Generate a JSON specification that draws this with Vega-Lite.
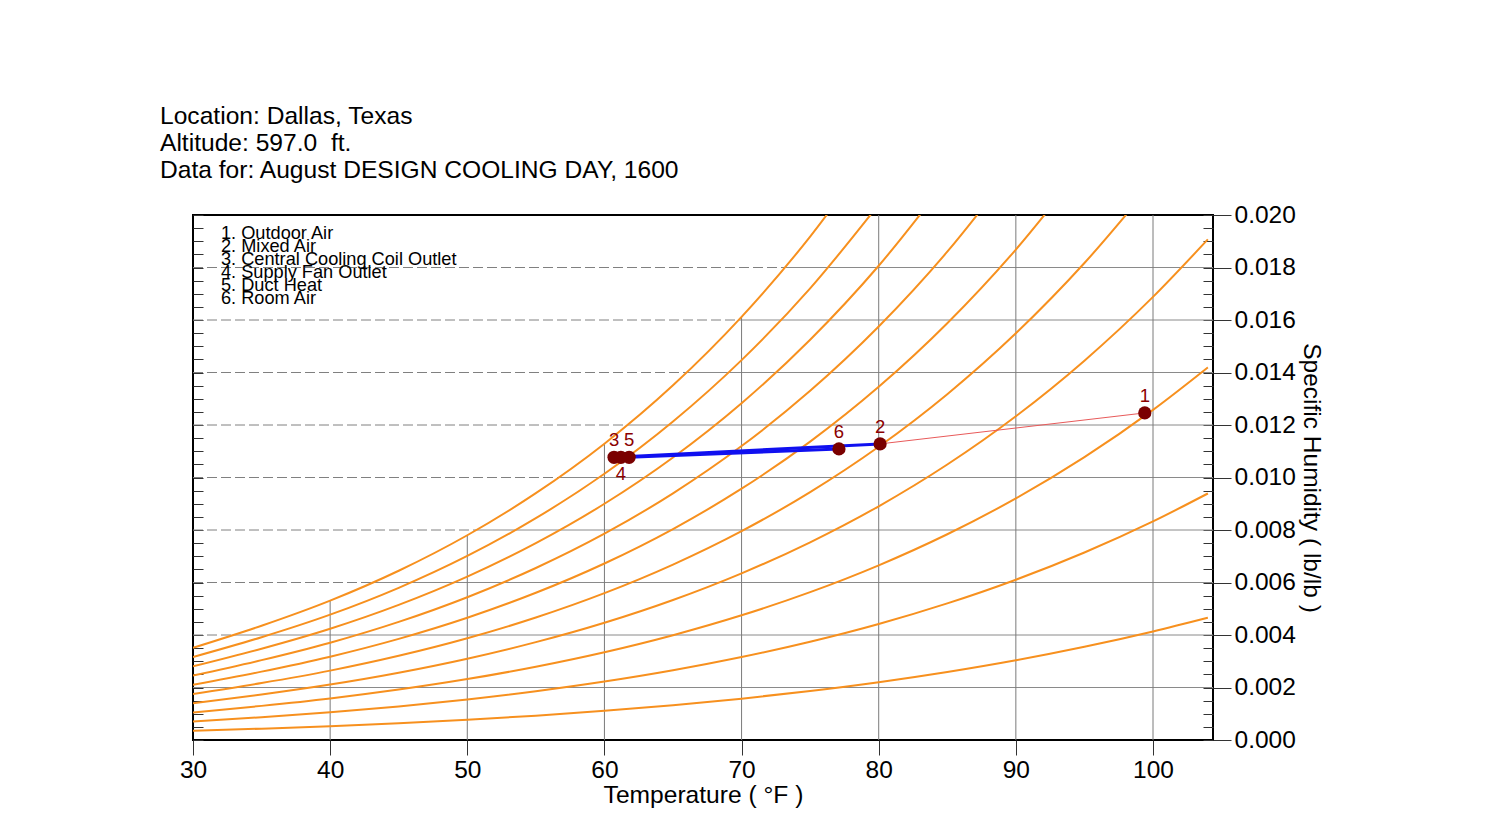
{
  "$schema": "https://vega.github.io/schema/vega-lite/v6.json",
  "autosize": {"type": "none"},
  "padding": {"left": 193, "top": 215, "right": 296, "bottom": 75},
  "width": 1020,
  "height": 525,
  "background": "white",
  "title": {
    "text": ["Location: Dallas, Texas", "Altitude: 597.0 \u00a0ft.", "Data for: August DESIGN COOLING DAY, 1600"],
    "anchor": "start",
    "frame": "group",
    "dx": -33,
    "offset": 18,
    "font": "Liberation Sans",
    "fontSize": 24.6,
    "fontWeight": "normal",
    "lineHeight": 27,
    "color": "black"
  },
  "config": {
    "view": {"stroke": "black", "strokeWidth": 2},
    "font": "Liberation Sans"
  },
  "resolve": {"axis": {"x": "independent", "y": "independent"}},
  "datasets": {
    "rh": [
      {"rh": 100, "T": 30, "W": 0.003513}, {"rh": 100, "T": 35, "W": 0.004354}, {"rh": 100, "T": 40, "W": 0.005310}, {"rh": 100, "T": 45, "W": 0.006448}, {"rh": 100, "T": 50, "W": 0.007800}, {"rh": 100, "T": 55, "W": 0.009403}, {"rh": 100, "T": 60, "W": 0.011289}, {"rh": 100, "T": 65, "W": 0.013512}, {"rh": 100, "T": 70, "W": 0.016121}, {"rh": 100, "T": 75, "W": 0.019178}, {"rh": 100, "T": 80, "W": 0.022749},
      {"rh": 90, "T": 30, "W": 0.003160}, {"rh": 90, "T": 35, "W": 0.003916}, {"rh": 90, "T": 40, "W": 0.004775}, {"rh": 90, "T": 45, "W": 0.005798}, {"rh": 90, "T": 50, "W": 0.007012}, {"rh": 90, "T": 55, "W": 0.008450}, {"rh": 90, "T": 60, "W": 0.010142}, {"rh": 90, "T": 65, "W": 0.012134}, {"rh": 90, "T": 70, "W": 0.014472}, {"rh": 90, "T": 75, "W": 0.017206}, {"rh": 90, "T": 80, "W": 0.020400},
      {"rh": 80, "T": 30, "W": 0.002808}, {"rh": 80, "T": 35, "W": 0.003479}, {"rh": 80, "T": 40, "W": 0.004240}, {"rh": 80, "T": 45, "W": 0.005148}, {"rh": 80, "T": 50, "W": 0.006225}, {"rh": 80, "T": 55, "W": 0.007500}, {"rh": 80, "T": 60, "W": 0.008999}, {"rh": 80, "T": 65, "W": 0.010763}, {"rh": 80, "T": 70, "W": 0.012830}, {"rh": 80, "T": 75, "W": 0.015248}, {"rh": 80, "T": 80, "W": 0.018067}, {"rh": 80, "T": 85, "W": 0.021350},
      {"rh": 70, "T": 30, "W": 0.002455}, {"rh": 70, "T": 35, "W": 0.003042}, {"rh": 70, "T": 40, "W": 0.003707}, {"rh": 70, "T": 45, "W": 0.004500}, {"rh": 70, "T": 50, "W": 0.005440}, {"rh": 70, "T": 55, "W": 0.006553}, {"rh": 70, "T": 60, "W": 0.007860}, {"rh": 70, "T": 65, "W": 0.009397}, {"rh": 70, "T": 70, "W": 0.011198}, {"rh": 70, "T": 75, "W": 0.013301}, {"rh": 70, "T": 80, "W": 0.015751}, {"rh": 70, "T": 85, "W": 0.018601}, {"rh": 70, "T": 90, "W": 0.021908},
      {"rh": 60, "T": 30, "W": 0.002103}, {"rh": 60, "T": 35, "W": 0.002605}, {"rh": 60, "T": 40, "W": 0.003175}, {"rh": 60, "T": 45, "W": 0.003853}, {"rh": 60, "T": 50, "W": 0.004657}, {"rh": 60, "T": 55, "W": 0.005608}, {"rh": 60, "T": 60, "W": 0.006725}, {"rh": 60, "T": 65, "W": 0.008037}, {"rh": 60, "T": 70, "W": 0.009573}, {"rh": 60, "T": 75, "W": 0.011366}, {"rh": 60, "T": 80, "W": 0.013453}, {"rh": 60, "T": 85, "W": 0.015876}, {"rh": 60, "T": 90, "W": 0.018684}, {"rh": 60, "T": 95, "W": 0.021932},
      {"rh": 50, "T": 30, "W": 0.001752}, {"rh": 50, "T": 35, "W": 0.002170}, {"rh": 50, "T": 40, "W": 0.002643}, {"rh": 50, "T": 45, "W": 0.003208}, {"rh": 50, "T": 50, "W": 0.003876}, {"rh": 50, "T": 55, "W": 0.004666}, {"rh": 50, "T": 60, "W": 0.005594}, {"rh": 50, "T": 65, "W": 0.006683}, {"rh": 50, "T": 70, "W": 0.007957}, {"rh": 50, "T": 75, "W": 0.009443}, {"rh": 50, "T": 80, "W": 0.011170}, {"rh": 50, "T": 85, "W": 0.013174}, {"rh": 50, "T": 90, "W": 0.015493}, {"rh": 50, "T": 95, "W": 0.018170}, {"rh": 50, "T": 100, "W": 0.021245},
      {"rh": 40, "T": 30, "W": 0.001401}, {"rh": 40, "T": 35, "W": 0.001734}, {"rh": 40, "T": 40, "W": 0.002113}, {"rh": 40, "T": 45, "W": 0.002563}, {"rh": 40, "T": 50, "W": 0.003097}, {"rh": 40, "T": 55, "W": 0.003728}, {"rh": 40, "T": 60, "W": 0.004467}, {"rh": 40, "T": 65, "W": 0.005335}, {"rh": 40, "T": 70, "W": 0.006350}, {"rh": 40, "T": 75, "W": 0.007532}, {"rh": 40, "T": 80, "W": 0.008904}, {"rh": 40, "T": 85, "W": 0.010495}, {"rh": 40, "T": 90, "W": 0.012333}, {"rh": 40, "T": 95, "W": 0.014451}, {"rh": 40, "T": 100, "W": 0.016880}, {"rh": 40, "T": 104, "W": 0.019071},
      {"rh": 30, "T": 30, "W": 0.001050}, {"rh": 30, "T": 35, "W": 0.001300}, {"rh": 30, "T": 40, "W": 0.001583}, {"rh": 30, "T": 45, "W": 0.001921}, {"rh": 30, "T": 50, "W": 0.002320}, {"rh": 30, "T": 55, "W": 0.002792}, {"rh": 30, "T": 60, "W": 0.003344}, {"rh": 30, "T": 65, "W": 0.003993}, {"rh": 30, "T": 70, "W": 0.004750}, {"rh": 30, "T": 75, "W": 0.005632}, {"rh": 30, "T": 80, "W": 0.006654}, {"rh": 30, "T": 85, "W": 0.007838}, {"rh": 30, "T": 90, "W": 0.009204}, {"rh": 30, "T": 95, "W": 0.010776}, {"rh": 30, "T": 100, "W": 0.012575}, {"rh": 30, "T": 104, "W": 0.014194},
      {"rh": 20, "T": 30, "W": 0.000700}, {"rh": 20, "T": 35, "W": 0.000866}, {"rh": 20, "T": 40, "W": 0.001055}, {"rh": 20, "T": 45, "W": 0.001279}, {"rh": 20, "T": 50, "W": 0.001545}, {"rh": 20, "T": 55, "W": 0.001858}, {"rh": 20, "T": 60, "W": 0.002226}, {"rh": 20, "T": 65, "W": 0.002656}, {"rh": 20, "T": 70, "W": 0.003159}, {"rh": 20, "T": 75, "W": 0.003743}, {"rh": 20, "T": 80, "W": 0.004420}, {"rh": 20, "T": 85, "W": 0.005204}, {"rh": 20, "T": 90, "W": 0.006106}, {"rh": 20, "T": 95, "W": 0.007143}, {"rh": 20, "T": 100, "W": 0.008327}, {"rh": 20, "T": 104, "W": 0.009391},
      {"rh": 10, "T": 30, "W": 0.000350}, {"rh": 10, "T": 35, "W": 0.000433}, {"rh": 10, "T": 40, "W": 0.000527}, {"rh": 10, "T": 45, "W": 0.000639}, {"rh": 10, "T": 50, "W": 0.000771}, {"rh": 10, "T": 55, "W": 0.000928}, {"rh": 10, "T": 60, "W": 0.001111}, {"rh": 10, "T": 65, "W": 0.001325}, {"rh": 10, "T": 70, "W": 0.001575}, {"rh": 10, "T": 75, "W": 0.001866}, {"rh": 10, "T": 80, "W": 0.002202}, {"rh": 10, "T": 85, "W": 0.002591}, {"rh": 10, "T": 90, "W": 0.003038}, {"rh": 10, "T": 95, "W": 0.003551}, {"rh": 10, "T": 100, "W": 0.004136}, {"rh": 10, "T": 104, "W": 0.004661}
    ],
    "hdash": [
      {"W": 0.004, "T": 30}, {"W": 0.004, "T": 33.0},
      {"W": 0.006, "T": 30}, {"W": 0.006, "T": 43.1},
      {"W": 0.008, "T": 30}, {"W": 0.008, "T": 50.7},
      {"W": 0.010, "T": 30}, {"W": 0.010, "T": 56.7},
      {"W": 0.012, "T": 30}, {"W": 0.012, "T": 61.7},
      {"W": 0.014, "T": 30}, {"W": 0.014, "T": 66.0},
      {"W": 0.016, "T": 30}, {"W": 0.016, "T": 69.8},
      {"W": 0.018, "T": 30}, {"W": 0.018, "T": 73.2}
    ],
    "hsolid": [
      {"W": 0.002, "T": 30}, {"W": 0.002, "T": 104.375},
      {"W": 0.004, "T": 33.0}, {"W": 0.004, "T": 104.375},
      {"W": 0.006, "T": 43.1}, {"W": 0.006, "T": 104.375},
      {"W": 0.008, "T": 50.7}, {"W": 0.008, "T": 104.375},
      {"W": 0.010, "T": 56.7}, {"W": 0.010, "T": 104.375},
      {"W": 0.012, "T": 61.7}, {"W": 0.012, "T": 104.375},
      {"W": 0.014, "T": 66.0}, {"W": 0.014, "T": 104.375},
      {"W": 0.016, "T": 69.8}, {"W": 0.016, "T": 104.375},
      {"W": 0.018, "T": 73.2}, {"W": 0.018, "T": 104.375}
    ],
    "vgrid": [
      {"T": 40, "W": 0}, {"T": 40, "W": 0.00531},
      {"T": 50, "W": 0}, {"T": 50, "W": 0.0078},
      {"T": 60, "W": 0}, {"T": 60, "W": 0.011289},
      {"T": 70, "W": 0}, {"T": 70, "W": 0.016121},
      {"T": 80, "W": 0}, {"T": 80, "W": 0.02},
      {"T": 90, "W": 0}, {"T": 90, "W": 0.02},
      {"T": 100, "W": 0}, {"T": 100, "W": 0.02}
    ],
    "points": [
      {"id": 1, "name": "Outdoor Air", "T": 99.4, "W": 0.01246},
      {"id": 2, "name": "Mixed Air", "T": 80.1, "W": 0.01128},
      {"id": 3, "name": "Central Cooling Coil Outlet", "T": 60.7, "W": 0.01077},
      {"id": 4, "name": "Supply Fan Outlet", "T": 61.2, "W": 0.01077},
      {"id": 5, "name": "Duct Heat", "T": 61.8, "W": 0.01077},
      {"id": 6, "name": "Room Air", "T": 77.1, "W": 0.01109}
    ],
    "mixing": [
      {"seg": "1-2", "T": 99.4, "W": 0.01246}, {"seg": "1-2", "T": 80.1, "W": 0.01128}
    ],
    "process": [
      {"seg": "2-3", "T": 80.1, "W": 0.01128}, {"seg": "2-3", "T": 60.7, "W": 0.01077},
      {"seg": "5-6", "T": 61.8, "W": 0.01077}, {"seg": "5-6", "T": 77.1, "W": 0.01109}
    ]
  },
  "layer": [
    {
      "data": {"name": "hdash"},
      "mark": {"type": "line", "color": "#808080", "strokeWidth": 1, "strokeDash": [10, 4], "clip": true},
      "encoding": {
        "x": {"field": "T", "type": "quantitative", "scale": {"domain": [30, 104.375], "nice": false, "zero": false}, "axis": null},
        "y": {"field": "W", "type": "quantitative", "scale": {"domain": [0, 0.02], "nice": false, "zero": false},
              "axis": {"orient": "right", "values": [0, 0.0005, 0.001, 0.0015, 0.002, 0.0025, 0.003, 0.0035, 0.004, 0.0045, 0.005, 0.0055, 0.006, 0.0065, 0.007, 0.0075, 0.008, 0.0085, 0.009, 0.0095, 0.01, 0.0105, 0.011, 0.0115, 0.012, 0.0125, 0.013, 0.0135, 0.014, 0.0145, 0.015, 0.0155, 0.016, 0.0165, 0.017, 0.0175, 0.018, 0.0185, 0.019, 0.0195, 0.02],
                       "tickSize": -10, "tickColor": "#333333", "labels": false, "domain": false, "grid": false, "title": null}},
        "detail": {"field": "W", "type": "nominal"}
      }
    },
    {
      "data": {"name": "hsolid"},
      "mark": {"type": "line", "color": "#8a8a8a", "strokeWidth": 1, "clip": true},
      "encoding": {
        "x": {"field": "T", "type": "quantitative", "scale": {"domain": [30, 104.375], "nice": false, "zero": false}, "axis": null},
        "y": {"field": "W", "type": "quantitative", "scale": {"domain": [0, 0.02], "nice": false, "zero": false}, "axis": null},
        "detail": {"field": "W", "type": "nominal"}
      }
    },
    {
      "data": {"name": "vgrid"},
      "mark": {"type": "line", "color": "#7a7a7a", "strokeWidth": 1, "clip": true},
      "encoding": {
        "x": {"field": "T", "type": "quantitative", "scale": {"domain": [30, 104.375], "nice": false, "zero": false}, "axis": null},
        "y": {"field": "W", "type": "quantitative", "scale": {"domain": [0, 0.02], "nice": false, "zero": false},
              "axis": {"orient": "left", "values": [0, 0.0005, 0.001, 0.0015, 0.002, 0.0025, 0.003, 0.0035, 0.004, 0.0045, 0.005, 0.0055, 0.006, 0.0065, 0.007, 0.0075, 0.008, 0.0085, 0.009, 0.0095, 0.01, 0.0105, 0.011, 0.0115, 0.012, 0.0125, 0.013, 0.0135, 0.014, 0.0145, 0.015, 0.0155, 0.016, 0.0165, 0.017, 0.0175, 0.018, 0.0185, 0.019, 0.0195, 0.02],
                       "tickSize": -10, "tickColor": "#333333", "labels": false, "domain": false, "grid": false, "title": null}},
        "detail": {"field": "T", "type": "nominal"}
      }
    },
    {
      "data": {"name": "rh"},
      "mark": {"type": "line", "color": "#f7901e", "strokeWidth": 2, "interpolate": "monotone", "clip": true},
      "encoding": {
        "x": {"field": "T", "type": "quantitative", "scale": {"domain": [30, 104.375], "nice": false, "zero": false},
              "axis": {"orient": "bottom", "values": [30, 40, 50, 60, 70, 80, 90, 100], "domain": false, "grid": false, "tickSize": 15, "tickColor": "#333333",
                       "labelFontSize": 24.5, "labelColor": "black", "labelPadding": 3, "labelFont": "Liberation Sans", "labelFlush": false, "labelOverlap": false,
                       "title": "Temperature ( °F )", "titleFontSize": 24.6, "titleFontWeight": "normal", "titleColor": "black", "titleFont": "Liberation Sans", "titlePadding": 2}},
        "y": {"field": "W", "type": "quantitative", "scale": {"domain": [0, 0.02], "nice": false, "zero": false},
              "axis": {"orient": "right", "values": [0, 0.002, 0.004, 0.006, 0.008, 0.01, 0.012, 0.014, 0.016, 0.018, 0.02], "format": ".3f", "domain": false, "grid": false,
                       "tickSize": 18, "tickColor": "#333333", "labelFontSize": 24.5, "labelColor": "black", "labelPadding": 3, "labelFont": "Liberation Sans", "labelFlush": false, "labelOverlap": false,
                       "title": "Specific Humidity ( lb/lb )", "titleAngle": 90, "titleFontSize": 24.5, "titleFontWeight": "normal", "titleColor": "black", "titleFont": "Liberation Sans", "titlePadding": 3}},
        "detail": {"field": "rh", "type": "nominal"}
      }
    },
    {
      "data": {"name": "mixing"},
      "mark": {"type": "line", "color": "#e85a5a", "strokeWidth": 1},
      "encoding": {
        "x": {"field": "T", "type": "quantitative", "scale": {"domain": [30, 104.375], "nice": false, "zero": false}, "axis": null},
        "y": {"field": "W", "type": "quantitative", "scale": {"domain": [0, 0.02], "nice": false, "zero": false}, "axis": null},
        "detail": {"field": "seg", "type": "nominal"}
      }
    },
    {
      "data": {"name": "process"},
      "mark": {"type": "line", "color": "#1010f0", "strokeWidth": 3},
      "encoding": {
        "x": {"field": "T", "type": "quantitative", "scale": {"domain": [30, 104.375], "nice": false, "zero": false}, "axis": null},
        "y": {"field": "W", "type": "quantitative", "scale": {"domain": [0, 0.02], "nice": false, "zero": false}, "axis": null},
        "detail": {"field": "seg", "type": "nominal"}
      }
    },
    {
      "data": {"name": "points"},
      "mark": {"type": "circle", "color": "#7a0000", "opacity": 1, "size": 175},
      "encoding": {
        "x": {"field": "T", "type": "quantitative", "scale": {"domain": [30, 104.375], "nice": false, "zero": false}, "axis": null},
        "y": {"field": "W", "type": "quantitative", "scale": {"domain": [0, 0.02], "nice": false, "zero": false}, "axis": null}
      }
    },
    {
      "data": {"name": "points"},
      "transform": [{"filter": "datum.id != 4"}],
      "mark": {"type": "text", "color": "#8b0000", "fontSize": 18.5, "font": "Liberation Sans", "dy": -17, "baseline": "middle"},
      "encoding": {
        "x": {"field": "T", "type": "quantitative", "scale": {"domain": [30, 104.375], "nice": false, "zero": false}, "axis": null},
        "y": {"field": "W", "type": "quantitative", "scale": {"domain": [0, 0.02], "nice": false, "zero": false}, "axis": null},
        "text": {"field": "id", "type": "nominal"}
      }
    },
    {
      "data": {"name": "points"},
      "transform": [{"filter": "datum.id == 4"}],
      "mark": {"type": "text", "color": "#8b0000", "fontSize": 18.5, "font": "Liberation Sans", "dy": 17, "baseline": "middle"},
      "encoding": {
        "x": {"field": "T", "type": "quantitative", "scale": {"domain": [30, 104.375], "nice": false, "zero": false}, "axis": null},
        "y": {"field": "W", "type": "quantitative", "scale": {"domain": [0, 0.02], "nice": false, "zero": false}, "axis": null},
        "text": {"field": "id", "type": "nominal"}
      }
    },
    {
      "data": {"name": "points"},
      "transform": [{"filter": "datum.id == 1"}],
      "mark": {"type": "text", "color": "black", "fontSize": 18.2, "font": "Liberation Sans", "align": "left", "baseline": "alphabetic", "lineHeight": 13,
               "text": ["1. Outdoor Air", "2. Mixed Air", "3. Central Cooling Coil Outlet", "4. Supply Fan Outlet", "5. Duct Heat", "6. Room Air"]},
      "encoding": {
        "x": {"datum": 32.04, "type": "quantitative", "scale": {"domain": [30, 104.375], "nice": false, "zero": false}, "axis": null},
        "y": {"datum": 0.0191, "type": "quantitative", "scale": {"domain": [0, 0.02], "nice": false, "zero": false}, "axis": null}
      }
    }
  ]
}
